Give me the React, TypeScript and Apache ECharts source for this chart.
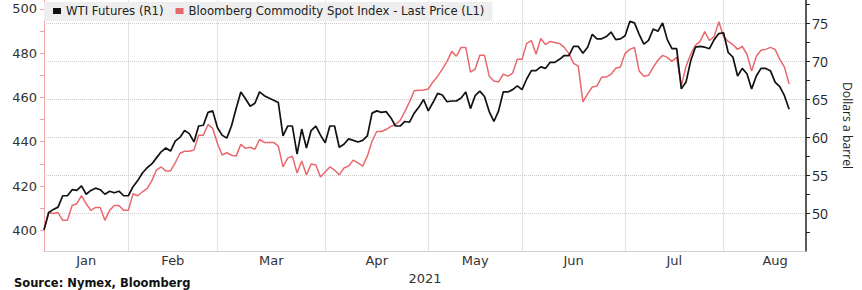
import React, { useEffect, useRef } from 'react';
import * as echarts from 'echarts';

const months = ['Jan', 'Feb', 'Mar', 'Apr', 'May', 'Jun', 'Jul', 'Aug'];
const tradingDaysPerMonth = [19, 19, 23, 22, 20, 22, 21, 22];
const yearLabel = '2021';

const wtiName = 'WTI Futures (R1)';
const bcomName = 'Bloomberg Commodity Spot Index - Last Price (L1)';

// WTI Futures, dollars a barrel (right axis), one value per trading day from Jan 4
const wtiFutures = [
  // Jan
  47.8, 50.1, 50.5, 50.8, 52.3, 52.3, 53.1, 53.0, 53.6, 52.5, 53.0, 53.3, 53.1, 52.5, 52.9, 52.7, 52.9, 52.3, 52.3,
  // Feb
  53.5, 54.3, 55.3, 56.0, 56.5, 57.3, 58.1, 58.6, 58.2, 59.5, 60.0, 60.9, 60.5, 59.4, 61.5, 61.6, 63.3, 63.5, 61.3,
  // Mar
  60.3, 59.9, 61.5, 63.8, 66.0, 65.1, 64.1, 64.5, 66.0, 65.5, 65.2, 64.9, 64.6, 60.2, 61.5, 61.5, 57.8, 61.1, 58.6, 60.9, 61.5, 60.3, 59.3,
  // Apr
  61.5, 61.5, 58.7, 59.1, 59.8, 59.6, 59.4, 59.6, 60.2, 63.2, 63.5, 63.3, 63.4, 62.6, 61.5, 61.5, 62.1, 62.0, 63.2, 64.0, 65.0, 63.5,
  // May
  64.6, 65.8, 65.6, 64.7, 64.8, 64.8, 65.2, 66.0, 63.8, 65.5, 66.1, 65.4, 63.4, 62.1, 63.5, 66.0, 66.0, 66.3, 66.8, 66.3,
  // Jun
  67.7, 68.8, 68.8, 69.3, 69.1, 69.9, 69.9, 70.3, 70.8, 70.8, 72.0, 72.0, 71.1, 71.9, 73.6, 73.0, 73.0, 73.3, 73.9, 72.9, 73.0, 73.4,
  // Jul
  75.3, 75.1, 73.6, 72.3, 72.8, 74.3, 74.0, 75.1, 72.9, 71.7, 71.7, 66.4, 67.3, 70.1, 71.9, 72.0, 71.9, 71.7, 72.9, 73.7, 73.8,
  // Aug
  71.2, 70.6, 68.1, 69.1, 68.4, 66.4, 68.1, 69.1, 69.1, 68.8, 67.3, 66.7, 65.5, 63.7,
];

// Bloomberg Commodity Spot Index (left axis)
const bcomSpot = [
  // Jan
  400, 408, 407.6, 408, 404.5, 404.5, 411.2, 412, 415.6, 412, 409, 410.3, 410.3, 404.5, 409, 411.2, 411.2, 409, 409,
  // Feb
  416.5, 415.6, 417.4, 418.8, 422.3, 427.2, 428.6, 426.8, 426.8, 430.4, 434.8, 435.7, 435.7, 436.2, 442.9, 442.9, 447.8, 446, 439.3,
  // Mar
  434, 435, 433.9, 433.5, 438.8, 437, 437.5, 436.6, 441, 439.7, 439.7, 439.7, 438, 428.6, 432.6, 433.5, 425.9, 431.3, 425, 429.9, 429.5, 424.1, 426.3,
  // Apr
  428.6, 427.2, 425, 428.1, 429, 431.7, 430.4, 429, 433.5, 440.2, 444.6, 444.6, 445.5, 446.9, 447.8, 449.6, 453.6, 458, 463, 463.2, 463.4, 463.8,
  // May
  467, 469.6, 472.8, 476.3, 480.8, 478.6, 482.6, 482.6, 471.4, 472.8, 479, 479, 469.6, 467.4, 467, 470.5, 469.6, 471, 477.2, 477.2,
  // Jun
  484.4, 485.7, 479.5, 486.6, 483.9, 485.3, 484.8, 484.4, 482.6, 479.9, 475.4, 474.1, 458, 461.6, 464.7, 465.2, 469.2, 469.2, 470.5, 473.2, 473.7, 479.9,
  // Jul
  481.7, 482.6, 471.9, 469.6, 470, 473.7, 476.8, 479, 478.1, 476.3, 478.1, 465.2, 474.1, 479.5, 483.5, 485.3, 489.7, 485.7, 487.5, 494.2, 487.5,
  // Aug
  485.3, 483.9, 481.7, 483, 479.5, 471.9, 478.6, 481.3, 481.7, 482.6, 481.7, 477.2, 473.7, 466,
];

const leftTicks = [400, 410, 420, 430, 440, 450, 460, 470, 480, 490, 500];
const leftLabels = [400, 420, 440, 460, 480, 500];
const rightTicks = [47.5, 50, 52.5, 55, 57.5, 60, 62.5, 65, 67.5, 70, 72.5, 75, 77.5];
const rightLabels = [50, 55, 60, 65, 70, 75];

export default function App() {
  const ref = useRef<HTMLDivElement>(null);

  useEffect(() => {
    if (!ref.current) return;
    const chart = echarts.init(ref.current, undefined, { renderer: 'svg' });

    // index of the last trading day of each month
    const monthEnds: number[] = [];
    let acc = 0;
    tradingDaysPerMonth.forEach((n) => {
      acc += n;
      monthEnds.push(acc - 1);
    });
    const labelCenters = monthEnds.map((e, i) => ((i === 0 ? 0 : monthEnds[i - 1]) + e) / 2);
    const gridBoundaries = monthEnds.slice(0, months.length - 1);

    const monthFor = (v: number) => {
      const i = labelCenters.findIndex((c) => Math.abs(c - v) < 0.01);
      return i >= 0 ? months[i] : '';
    };

    const axisFont = 'DejaVu Sans, Verdana, sans-serif';

    chart.setOption({
      animation: false,
      backgroundColor: '#ffffff',
      title: {
        text: 'Source: Nymex, Bloomberg',
        left: 14,
        top: 277,
        padding: 0,
        textStyle: { fontFamily: axisFont, fontWeight: 'bold', fontSize: 11.5, lineHeight: 12, color: '#111' },
      },
      legend: {
        left: 44,
        top: 2,
        data: [wtiName, bcomName],
        backgroundColor: '#eeeeee',
        padding: [3, 8, 4, 9],
        itemWidth: 8,
        itemHeight: 6,
        itemGap: 12,
        icon: 'rect',
        selectedMode: false,
        textStyle: { fontFamily: axisFont, fontSize: 11.7, color: '#222' },
      },
      grid: { left: 44, right: 56, top: 0, bottom: 36, containLabel: false },
      xAxis: {
        type: 'value',
        min: 0,
        max: 162.6,
        axisLine: { show: true, onZero: false, lineStyle: { color: '#c4c4c4', type: 'dotted', width: 1 } },
        axisTick: { show: false },
        splitLine: { show: false },
        axisLabel: {
          customValues: labelCenters,
          formatter: (v: number) => monthFor(v),
          fontFamily: axisFont,
          fontSize: 13,
          color: '#333',
          margin: 3,
        },
        name: yearLabel,
        nameLocation: 'middle',
        nameGap: 13,
        nameTextStyle: { fontFamily: axisFont, fontSize: 13, color: '#333' },
      },
      yAxis: [
        {
          type: 'value',
          position: 'left',
          min: 390.6,
          max: 504,
          axisLine: { show: true, lineStyle: { color: '#f2a4a4', width: 1 } },
          axisTick: { show: true, customValues: leftTicks, length: 4, lineStyle: { color: '#f2a4a4' } },
          axisLabel: {
            customValues: leftLabels,
            fontFamily: axisFont,
            fontSize: 13,
            color: '#333',
            margin: 7,
          },
          splitLine: { show: false },
        },
        {
          type: 'value',
          position: 'right',
          min: 45,
          max: 78.125,
          axisLine: { show: true, lineStyle: { color: '#222', width: 1.5 } },
          axisTick: { show: true, customValues: rightTicks, length: 4, lineStyle: { color: '#222' } },
          axisLabel: {
            customValues: rightLabels,
            fontFamily: 'Open Sans, sans-serif',
            fontSize: 14,
            color: '#222',
            margin: 6,
          },
          splitLine: { show: false },
          name: 'Dollars a barrel',
          nameLocation: 'middle',
          nameRotate: -90,
          nameGap: 35,
          nameTextStyle: { fontFamily: 'Open Sans, sans-serif', fontSize: 12.2, color: '#222' },
        },
      ],
      series: [
        {
          name: bcomName,
          type: 'line',
          yAxisIndex: 0,
          data: bcomSpot.map((v, i) => [i, v]),
          symbol: 'none',
          showSymbol: false,
          color: '#e8696d',
          lineStyle: { color: '#e8696d', width: 1.5 },
          z: 2,
        },
        {
          name: wtiName,
          type: 'line',
          yAxisIndex: 1,
          data: wtiFutures.map((v, i) => [i, v]),
          symbol: 'none',
          showSymbol: false,
          color: '#111111',
          lineStyle: { color: '#111111', width: 1.7 },
          z: 3,
          markLine: {
            silent: true,
            symbol: ['none', 'none'],
            label: { show: false },
            z: 1,
            data: [
              ...gridBoundaries.map((b) => ({
                xAxis: b,
                lineStyle: { color: '#e2e2e2', type: 'solid', width: 1 },
              })),
              ...rightLabels.map((v) => ({
                yAxis: v,
                lineStyle: { color: '#cccccc', type: 'dotted', width: 1 },
              })),
            ],
          },
        },
      ],
    });

    return () => chart.dispose();
  }, []);

  return (
    <div
      ref={ref}
      style={{ position: 'absolute', left: 0, top: 0, width: 862, height: 290, background: '#fff' }}
    />
  );
}
